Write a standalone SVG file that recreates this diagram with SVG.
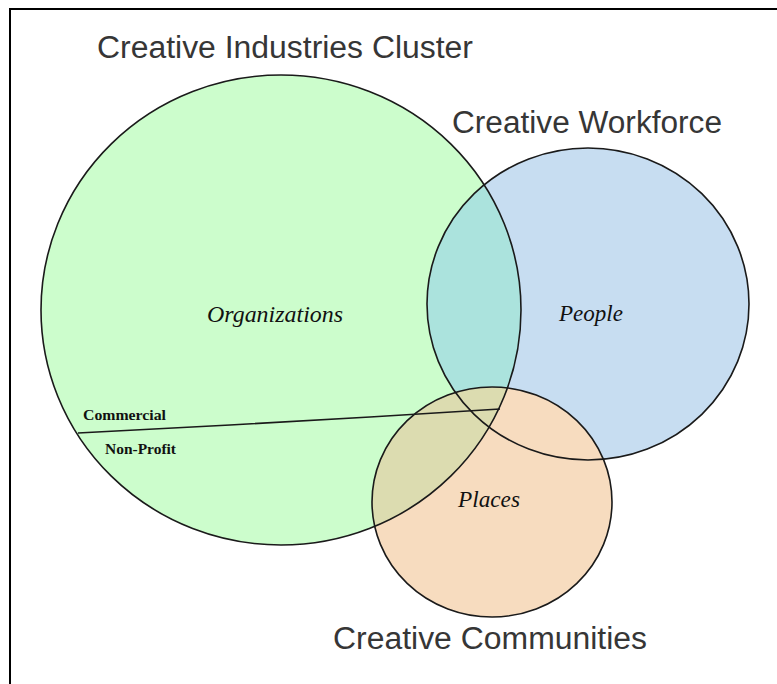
<svg xmlns="http://www.w3.org/2000/svg" xmlns:xlink="http://www.w3.org/1999/xlink" width="777" height="684" viewBox="0 0 777 684">
  <style>
    .title { font-family: "Liberation Sans", Arial, sans-serif; font-size: 31px; fill: #363636; }
    .inner { font-family: "Liberation Serif", "Times New Roman", serif; font-style: italic; font-size: 23px; fill: #111111; }
    .sector { font-family: "Liberation Serif", "Times New Roman", serif; font-weight: bold; font-size: 14px; fill: #111111; }
    .outline { fill: none; stroke: #1a1a1a; stroke-width: 1.6; }
    .frame { fill: #000000; }
  </style>
  <defs>
    <ellipse id="c-cluster" cx="281" cy="310" rx="240" ry="235"/>
    <ellipse id="c-workforce" cx="588" cy="304" rx="161" ry="156"/>
    <ellipse id="c-communities" cx="492" cy="502" rx="120" ry="115"/>
    <clipPath id="clip-cluster"><use xlink:href="#c-cluster"/></clipPath>
  </defs>

  <rect width="777" height="684" fill="#ffffff"/>

  <!-- frame: only top and left edges -->
  <rect class="frame" x="9" y="8" width="768" height="2"/>
  <rect class="frame" x="9" y="8" width="2" height="676"/>

  <g id="cluster">
    <use xlink:href="#c-cluster" fill="#ccfdcc"/>
    <text class="title" x="97" y="58" textLength="376" lengthAdjust="spacingAndGlyphs">Creative Industries Cluster</text>
  </g>

  <g id="workforce">
    <use xlink:href="#c-workforce" fill="#c7ddf1"/>
    <text class="title" x="452" y="133" textLength="270" lengthAdjust="spacingAndGlyphs">Creative Workforce</text>
  </g>

  <g id="communities">
    <use xlink:href="#c-communities" fill="#f7dcbf"/>
    <text class="title" x="333" y="649" textLength="314" lengthAdjust="spacingAndGlyphs">Creative Communities</text>
  </g>

  <!-- shaded overlap areas -->
  <g id="overlaps" clip-path="url(#clip-cluster)">
    <use xlink:href="#c-workforce" fill="#abe3dd"/>
    <use xlink:href="#c-communities" fill="#dcdcb0"/>
  </g>

  <!-- circle outlines and the sector divider -->
  <g id="connectors">
    <use xlink:href="#c-cluster" class="outline"/>
    <use xlink:href="#c-workforce" class="outline"/>
    <use xlink:href="#c-communities" class="outline"/>
    <polyline class="outline" points="78,433 230,425 370,417 500,409"/>
  </g>

  <g id="labels">
    <text class="inner" x="207" y="322" textLength="136" lengthAdjust="spacingAndGlyphs">Organizations</text>
    <text class="inner" x="559" y="321" textLength="64" lengthAdjust="spacingAndGlyphs">People</text>
    <text class="inner" x="458" y="507" textLength="62" lengthAdjust="spacingAndGlyphs">Places</text>
    <text class="sector" x="83" y="420" textLength="83" lengthAdjust="spacingAndGlyphs">Commercial</text>
    <text class="sector" x="105" y="454" textLength="71" lengthAdjust="spacingAndGlyphs">Non-Profit</text>
  </g>
</svg>
